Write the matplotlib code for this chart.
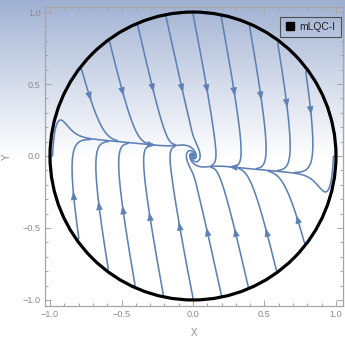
import numpy as np
import matplotlib
matplotlib.use("Agg")
import matplotlib.pyplot as plt
from matplotlib.patches import Circle, Polygon
from matplotlib.lines import Line2D
from matplotlib.ticker import FixedLocator, MultipleLocator, FixedFormatter

plt.rcParams['font.family'] = ['Liberation Sans', 'DejaVu Sans']

LINE_COLOR = '#5e81b5'

# Streamline start points: on the upper and lower rim, plus two on the equator
top_seed_x = [-0.79, -0.59, -0.39, -0.19, 0.0, 0.20, 0.40, 0.60, 0.80]
bottom_seed_x = [-0.81, -0.60, -0.41, -0.21, 0.0, 0.20, 0.39, 0.59, 0.79]
rim_seed_x = [-0.988, 0.988]
rim_seed_y = [0.0, 0.0]

# Where the arrowheads sit on each streamline
top_arrow_x = [-0.735, -0.52, -0.30, -0.09, 0.10, 0.30, 0.49, 0.67, 0.85]
top_arrow_y = [0.41, 0.44, 0.47, 0.47, 0.47, 0.45, 0.42, 0.37, 0.32]
bottom_arrow_x = [-0.86, -0.69, -0.49, -0.30, -0.09, 0.10, 0.31, 0.52, 0.73]
bottom_arrow_y = [-0.28, -0.35, -0.375, -0.42, -0.49, -0.53, -0.53, -0.53, -0.44]
rim_arrow_x = [-0.29, 0.28]
rim_arrow_y = [0.08, -0.076]

ticks = [-1.0, -0.5, 0.0, 0.5, 1.0]
tick_labels = ['\u22121.0', '\u22120.5', '0.0', '0.5', '1.0']
legend_label = 'mLQC-I'

# Phase-space flow (compactified onto the unit disk)
K, C, D = 1.0, 0.20, 0.02
SLOPE, STEP, WIDTH = 0.09, 0.05, 0.05
BUMP, BUMP_W = 0.42, 0.065
OMEGA, CORE = 1.0, 0.10


def field(x, y):
    slow = (-SLOPE * x - STEP * np.tanh(x / WIDTH)
            - np.sign(x) * BUMP * np.exp(-((1 - abs(x)) / BUMP_W) ** 2))
    g = np.exp(-(x * x + y * y) / CORE ** 2)
    u = C * y - D * x + OMEGA * g * y
    v = -K * (y - slow) - OMEGA * g * x
    return np.array([u, v])


def unit(p):
    w = field(p[0], p[1])
    return w / (np.hypot(w[0], w[1]) + 1e-12)


def trace(p0, taken, ds=0.003, rmax=0.982, sep=0.006):
    p = np.array(p0, dtype=float)
    pts = [p.copy()]
    travelled = 0.0
    for _ in range(5000):
        k1 = unit(p)
        k2 = unit(p + 0.5 * ds * k1)
        k3 = unit(p + 0.5 * ds * k2)
        k4 = unit(p + ds * k3)
        q = p + ds * (k1 + 2 * k2 + 2 * k3 + k4) / 6
        r = np.hypot(q[0], q[1])
        if r > rmax:
            q *= rmax / r
        travelled += ds
        if r < 0.003:
            pts.append(q)
            break
        if taken is not None and travelled > 0.05:
            dmin = np.min(np.hypot(taken[:, 0] - q[0], taken[:, 1] - q[1]))
            if dmin < sep:
                pts.append(q)
                break
        pts.append(q)
        p = q
    return np.array(pts)


seeds = [(rim_seed_x[i], rim_seed_y[i]) for i in range(2)]
seeds += [(x, 0.995 * np.sqrt(1 - x * x)) for x in top_seed_x]
seeds += [(x, -0.995 * np.sqrt(1 - x * x)) for x in bottom_seed_x]
arrows = list(zip(rim_arrow_x, rim_arrow_y))
arrows += list(zip(top_arrow_x, top_arrow_y))
arrows += list(zip(bottom_arrow_x, bottom_arrow_y))

paths = []
taken = None
for s in seeds:
    path = trace(s, taken)
    paths.append(path)
    taken = path if taken is None else np.vstack([taken, path])

fig = plt.figure(figsize=(3.45, 3.38), dpi=100)

# Soft blue-to-white backdrop
bg = fig.add_axes([0, 0, 1, 1], zorder=-5)
h = np.linspace(0, 1, 400)[:, None]
top_rgb = np.array([0.62, 0.686, 0.82])
t = np.clip(h / 0.47, 0, 1) ** 0.9
grad = top_rgb[None, None, :] * (1 - t[..., None]) + t[..., None]
bg.imshow(np.repeat(grad, 2, axis=1), aspect='auto', extent=[0, 1, 0, 1],
          origin='upper')
bg.set_axis_off()

ax = fig.add_axes([45 / 345, 1 - 306 / 338, 298 / 345, 299 / 338])
ax.set_facecolor('none')

for path in paths:
    ax.plot(path[:, 0], path[:, 1], color=LINE_COLOR, lw=1.15,
            solid_capstyle='round', zorder=2)

L, W = 0.055, 0.021
for (path, (axx, ayy)) in zip(paths, arrows):
    i = int(np.argmin(np.hypot(path[:, 0] - axx, path[:, 1] - ayy)))
    i = min(max(i, 1), len(path) - 2)
    d = path[i + 1] - path[i - 1]
    d = d / np.hypot(d[0], d[1])
    n = np.array([-d[1], d[0]])
    c = path[i]
    tri = [c + d * L / 2, c - d * L / 2 + n * W, c - d * L / 2 - n * W]
    ax.add_patch(Polygon(tri, closed=True, facecolor=LINE_COLOR,
                         edgecolor=LINE_COLOR, lw=0.3, zorder=3))

ax.add_patch(Circle((0, 0), 1.0, fill=False, lw=2.3, color='black', zorder=4))

ax.set_xlim(-1.035, 1.049)
ax.set_ylim(-1.042, 1.035)

frame_col = '#a6a6a6'
for sp in ax.spines.values():
    sp.set_color(frame_col)
    sp.set_linewidth(0.9)
ax.xaxis.set_major_locator(FixedLocator(ticks))
ax.yaxis.set_major_locator(FixedLocator(ticks))
ax.xaxis.set_major_formatter(FixedFormatter(tick_labels))
ax.yaxis.set_major_formatter(FixedFormatter(tick_labels))
ax.xaxis.set_minor_locator(MultipleLocator(0.1))
ax.yaxis.set_minor_locator(MultipleLocator(0.1))
ax.tick_params(which='both', direction='in', top=True, right=True,
               color=frame_col, labelcolor='#8a8a8a', labelsize=6.6, width=0.7)
ax.tick_params(which='major', length=4, pad=3)
ax.tick_params(which='minor', length=2)

ax.set_xlabel('X', color='#8a8a8a', fontsize=7, labelpad=6)
ax.set_ylabel('Y', color='#8a8a8a', fontsize=7, labelpad=8)

handle = Line2D([], [], marker='s', color='black', ls='none', markersize=5.8)
leg = ax.legend([handle], [legend_label], loc='upper right',
                bbox_to_anchor=(0.993, 0.967), borderaxespad=0,
                fontsize=7.4, frameon=True, fancybox=False,
                handletextpad=0.45, handlelength=1.0, borderpad=0.5)
leg.get_frame().set_facecolor('none')
leg.get_frame().set_edgecolor('#333333')
leg.get_frame().set_linewidth(0.8)
leg.set_zorder(6)
for txt in leg.get_texts():
    txt.set_color('#222222')

fig.savefig('out.png', dpi=100)
